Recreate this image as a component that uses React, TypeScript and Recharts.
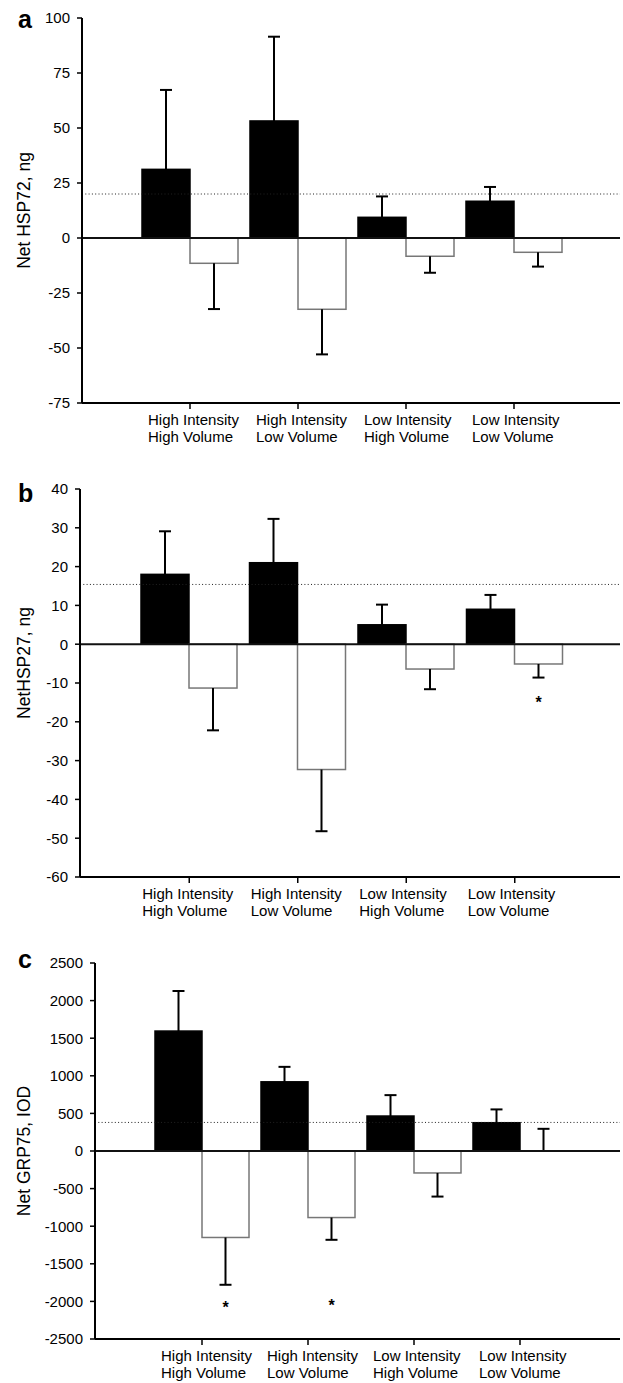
import { Bar, BarChart, ReferenceLine, XAxis, YAxis } from "recharts";

const FONT = '"Liberation Sans", Arial, Helvetica, sans-serif';

const categoryTop = ["High Intensity", "High Intensity", "Low Intensity", "Low Intensity"];
const categoryBottom = ["High Volume", "Low Volume", "High Volume", "Low Volume"];

// panel a – HSP72
const hsp72Filled = [31.2, 53.2, 9.4, 16.7];
const hsp72FilledErr = [36.1, 38.3, 9.5, 6.5];
const hsp72Open = [-11.5, -32.4, -8.3, -6.5];
const hsp72OpenErr = [20.8, 20.5, 7.5, 6.5];
const hsp72OpenStars: (number | null)[] = [null, null, null, null];
const hsp72Ref = 20;
const hsp72Ticks = [-75, -50, -25, 0, 25, 50, 75, 100];

// panel b – HSP27
const hsp27Filled = [18, 21, 5, 9];
const hsp27FilledErr = [11.1, 11.3, 5.2, 3.7];
const hsp27Open = [-11.3, -32.3, -6.4, -5.1];
const hsp27OpenErr = [10.9, 15.9, 5.2, 3.5];
const hsp27OpenStars: (number | null)[] = [null, null, null, -14.1];
const hsp27Ref = 15.4;
const hsp27Ticks = [-60, -50, -40, -30, -20, -10, 0, 10, 20, 30, 40];

// panel c – GRP75
const grp75Filled = [1595, 920, 465, 376];
const grp75FilledErr = [533, 199, 278, 177];
const grp75Open = [-1150, -885, -292, 0];
const grp75OpenErr = [629, 296, 314, 295];
const grp75OpenStars: (number | null)[] = [-2035, -2009, null, null];
const grp75Ref = 380;
const grp75Ticks = [-2500, -2000, -1500, -1000, -500, 0, 500, 1000, 1500, 2000, 2500];

type Row = {
  cat: string;
  filled: number;
  filledErr: number;
  open: number;
  openErr: number;
  star: number | null;
};

const buildRows = (
  filled: number[],
  filledErr: number[],
  open: number[],
  openErr: number[],
  stars: (number | null)[]
): Row[] =>
  categoryTop.map((t, i) => ({
    cat: `${t} ${categoryBottom[i]}`,
    filled: filled[i],
    filledErr: filledErr[i],
    open: open[i],
    openErr: openErr[i],
    star: stars[i],
  }));

// bar rectangle plus a one-sided error bar pointing away from zero
function barWithError(
  key: "filled" | "open",
  domain: [number, number],
  fill: string,
  stroke: string
) {
  return (p: any) => {
    const { x, y, width, height, payload, background } = p;
    const v: number = payload[key];
    const err: number = payload[key + "Err"];
    const top = Math.min(y, y + height);
    const bottom = Math.max(y, y + height);
    let ppu = v !== 0 ? (bottom - top) / Math.abs(v) : 0;
    if (!ppu && background) ppu = background.height / (domain[1] - domain[0]);
    const zeroY = v > 0 ? bottom : v < 0 ? top : y;
    const valueY = v > 0 ? top : v < 0 ? bottom : y;
    const dir = v < 0 ? -1 : 1;
    const errY = valueY - dir * err * ppu;
    const cx = x + width / 2;
    const star = key === "open" ? payload.star : null;
    return (
      <g>
        {bottom - top > 0 && (
          <rect
            x={x}
            y={top}
            width={width}
            height={bottom - top}
            fill={fill}
            stroke={stroke}
            strokeWidth={1.5}
          />
        )}
        <line x1={cx} x2={cx} y1={valueY} y2={errY} stroke="#000" strokeWidth={2} />
        <line x1={cx - 6} x2={cx + 6} y1={errY} y2={errY} stroke="#000" strokeWidth={2} />
        {star != null && (
          <text
            x={cx}
            y={zeroY - star * ppu + 9}
            textAnchor="middle"
            fontSize={16}
            fontWeight="bold"
            fontFamily={FONT}
            fill="#000"
          >
            *
          </text>
        )}
      </g>
    );
  };
}

const categoryTick = (dx: number) => (props: any) => {
  const { x, y, index } = props;
  return (
    <text x={x + dx} y={y} fontSize={15} fontFamily={FONT} fill="#000">
      <tspan x={x + dx} dy={16}>
        {categoryTop[index]}
      </tspan>
      <tspan x={x + dx} dy={17}>
        {categoryBottom[index]}
      </tspan>
    </text>
  );
};

type PanelProps = {
  rows: Row[];
  domain: [number, number];
  ticks: number[];
  refValue: number;
  yLabel: string;
  letter: string;
  top: number;
  height: number;
  marginTop: number;
  marginBottom: number;
  xAxisHeight: number;
  yAxisWidth: number;
  padLeft: number;
  padRight: number;
  tickDx: number;
  labelShift: number;
  letterY: number;
};

function Panel(pp: PanelProps) {
  const yLabel = (lp: any) => {
    const vb = lp.viewBox || { y: 0, height: 0 };
    const cy = vb.y + vb.height / 2 + pp.labelShift;
    return (
      <g>
        <text
          x={18}
          y={pp.letterY}
          fontSize={25}
          fontWeight="bold"
          fontFamily={FONT}
          fill="#000"
        >
          {pp.letter}
        </text>
        <text
          x={30}
          y={cy}
          transform={`rotate(-90 30 ${cy})`}
          textAnchor="middle"
          fontSize={17.5}
          fontFamily={FONT}
          fill="#000"
        >
          {pp.yLabel}
        </text>
      </g>
    );
  };

  return (
    <div style={{ position: "absolute", left: 0, top: pp.top }}>
      <BarChart
        width={623}
        height={pp.height}
        data={pp.rows}
        margin={{ top: pp.marginTop, right: 3, bottom: pp.marginBottom, left: 0 }}
        barCategoryGap={6}
        barGap={0}
      >
        <XAxis
          dataKey="cat"
          height={pp.xAxisHeight}
          padding={{ left: pp.padLeft, right: pp.padRight }}
          axisLine={{ stroke: "#000", strokeWidth: 2 }}
          tickLine={{ stroke: "#000", strokeWidth: 1.5 }}
          tickSize={6}
          tickMargin={0}
          interval={0}
          tick={categoryTick(pp.tickDx)}
        />
        <YAxis
          type="number"
          domain={pp.domain}
          ticks={pp.ticks}
          allowDataOverflow
          width={pp.yAxisWidth}
          axisLine={{ stroke: "#000", strokeWidth: 2 }}
          tickLine={{ stroke: "#000", strokeWidth: 1.5 }}
          tickSize={5}
          tickMargin={7}
          interval={0}
          tick={{ fontSize: 15, fill: "#000", fontFamily: FONT }}
          label={yLabel}
        />
        <ReferenceLine
          y={pp.refValue}
          stroke="#222"
          strokeWidth={1}
          strokeDasharray="1 2.3"
        />
        <Bar
          dataKey="filled"
          isAnimationActive={false}
          shape={barWithError("filled", pp.domain, "#000", "#000")}
        />
        <Bar
          dataKey="open"
          isAnimationActive={false}
          shape={barWithError("open", pp.domain, "#fff", "#777")}
        />
        <ReferenceLine y={0} stroke="#111" strokeWidth={2} />
      </BarChart>
    </div>
  );
}

export default function App() {
  return (
    <div style={{ position: "relative", width: 623, height: 1383, background: "#fff" }}>
      <style>{"body{margin:0;background:#fff}"}</style>
      <Panel
        rows={buildRows(hsp72Filled, hsp72FilledErr, hsp72Open, hsp72OpenErr, hsp72OpenStars)}
        domain={[-75, 100]}
        ticks={hsp72Ticks}
        refValue={hsp72Ref}
        yLabel="Net HSP72, ng"
        letter="a"
        top={0}
        height={460}
        marginTop={18}
        marginBottom={7}
        xAxisHeight={50}
        yAxisWidth={82}
        padLeft={54}
        padRight={52}
        tickDx={-42}
        labelShift={0}
        letterY={28}
      />
      <Panel
        rows={buildRows(hsp27Filled, hsp27FilledErr, hsp27Open, hsp27OpenErr, hsp27OpenStars)}
        domain={[-60, 40]}
        ticks={hsp27Ticks}
        refValue={hsp27Ref}
        yLabel="NetHSP27, ng"
        letter="b"
        top={460}
        height={470}
        marginTop={29}
        marginBottom={3}
        xAxisHeight={50}
        yAxisWidth={80}
        padLeft={55}
        padRight={51}
        tickDx={-47}
        labelShift={-20}
        letterY={42}
      />
      <Panel
        rows={buildRows(grp75Filled, grp75FilledErr, grp75Open, grp75OpenErr, grp75OpenStars)}
        domain={[-2500, 2500]}
        ticks={grp75Ticks}
        refValue={grp75Ref}
        yLabel="Net GRP75, IOD"
        letter="c"
        top={930}
        height={453}
        marginTop={33}
        marginBottom={0}
        xAxisHeight={44}
        yAxisWidth={95}
        padLeft={54}
        padRight={47}
        tickDx={-41}
        labelShift={0}
        letterY={38}
      />
    </div>
  );
}
